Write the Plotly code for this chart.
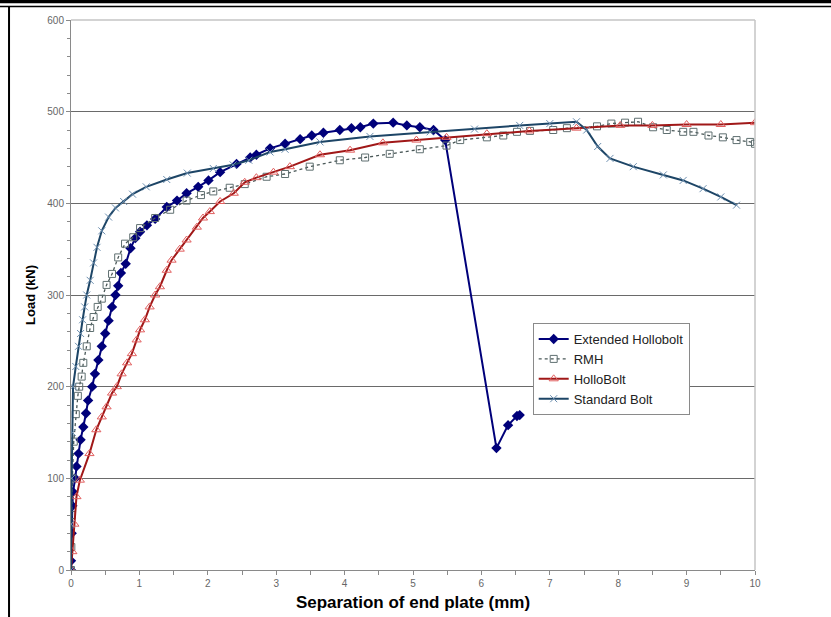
import plotly.graph_objects as go

# ---------------- data ----------------
ext_x = [0.0, 0.0, 0.01, 0.02, 0.03, 0.06, 0.08, 0.11, 0.14, 0.18, 0.22, 0.25, 0.31, 0.35, 0.40, 0.45,
         0.50, 0.55, 0.60, 0.65, 0.69, 0.73, 0.80, 0.87, 0.94, 1.01, 1.11, 1.23, 1.40, 1.55, 1.69, 1.86,
         2.01, 2.18, 2.42, 2.62, 2.71, 2.91, 3.13, 3.35, 3.52, 3.69, 3.93, 4.10, 4.23, 4.42, 4.71,
         4.91, 5.10, 5.30, 5.47, 6.22, 6.39, 6.52, 6.56]
ext_y = [0, 10, 40, 70, 85, 100, 113, 127, 142, 156, 171, 185, 200, 214, 229, 244,
         258, 272, 287, 300, 310, 324, 334, 351, 362, 369, 376, 383, 396, 403, 411, 418,
         425, 434, 443, 450, 453, 460, 465, 470, 474, 477, 480, 482, 483, 487, 488,
         485, 483, 480, 469, 133, 158, 168, 169]

rmh_x = [0.0, 0.005, 0.01, 0.02, 0.04, 0.07, 0.10, 0.12, 0.156, 0.18, 0.23, 0.28, 0.33, 0.39, 0.45,
         0.52, 0.60, 0.69, 0.79, 0.91, 1.01, 1.23, 1.45, 1.69, 1.90, 2.08, 2.32, 2.54, 2.86, 3.13,
         3.49, 3.93, 4.30, 4.66, 5.10, 5.49, 5.69, 6.08, 6.32, 6.52, 6.71, 7.05, 7.25, 7.69, 7.90,
         8.10, 8.29, 8.51, 8.71, 8.95, 9.10, 9.32, 9.53, 9.73, 9.93, 10.0]
rmh_y = [0, 25, 60, 100, 140, 170, 190, 200, 211, 226, 244, 264, 276, 287, 296,
         311, 323, 341, 356, 363, 373, 384, 393, 403, 409, 413, 417, 421, 429, 432,
         440, 447, 450, 454, 459, 463, 469, 472, 474, 478, 479, 480, 482, 484, 487,
         488, 489, 483, 480, 478, 478, 474, 472, 469, 467, 465]

hb_x = [0.0, 0.02, 0.05, 0.08, 0.13, 0.27, 0.37, 0.45, 0.52, 0.60, 0.67, 0.74, 0.82, 0.89, 0.96,
        1.01, 1.08, 1.15, 1.23, 1.30, 1.40, 1.47, 1.59, 1.69, 1.84, 1.93, 2.03, 2.18, 2.38, 2.54,
        2.71, 2.96, 3.20, 3.64, 4.08, 4.56, 5.05, 5.49, 6.08, 6.70, 7.39, 8.03, 8.50, 9.00, 9.50,
        10.0]
hb_y = [0, 20, 50, 80, 98, 127, 153, 167, 178, 193, 200, 214, 226, 236, 251,
        262, 273, 287, 300, 309, 327, 338, 350, 360, 374, 384, 391, 402, 411, 423,
        428, 434, 440, 453, 458, 466, 469, 472, 476, 479, 482, 485, 485, 486, 486,
        488]

std_x = [0.0, 0.0, 0.01, 0.02, 0.03, 0.07, 0.11, 0.14, 0.17, 0.20, 0.23, 0.28, 0.33, 0.38, 0.45,
         0.55, 0.65, 0.77, 0.90, 1.10, 1.40, 1.70, 2.08, 2.37, 2.60, 2.91, 3.13, 3.64, 4.37, 5.25,
         5.90, 6.56, 7.00, 7.39, 7.54, 7.70, 7.88, 8.22, 8.66, 8.95, 9.24, 9.50, 9.73]
std_y = [0, 50, 100, 150, 200, 222, 244, 258, 273, 287, 300, 316, 335, 352, 370,
         385, 395, 402, 410, 418, 426, 433, 438, 442, 447, 456, 459, 467, 473, 478,
         481, 485, 487, 489, 480, 462, 449, 440, 431, 425, 416, 407, 398]

x_title = "Separation of end plate (mm)"
y_title = "Load (kN)"

# ---------------- figure ----------------
fig = go.Figure()

fig.add_trace(go.Scatter(
    x=ext_x, y=ext_y, name="Extended Hollobolt", mode="lines+markers",
    line=dict(color="#00007a", width=2),
    marker=dict(symbol="diamond", size=8, color="#00007a")))

fig.add_trace(go.Scatter(
    x=rmh_x, y=rmh_y, name="RMH", mode="lines+markers",
    line=dict(color="#4a5858", width=1.3, dash="dot"),
    marker=dict(symbol="square-open", size=7, color="#5f6f70", line=dict(width=1))))

fig.add_trace(go.Scatter(
    x=hb_x, y=hb_y, name="HolloBolt", mode="lines+markers",
    line=dict(color="#a01818", width=2),
    marker=dict(symbol="triangle-up-open", size=8, color="#e26060", line=dict(width=1))))

fig.add_trace(go.Scatter(
    x=std_x, y=std_y, name="Standard Bolt", mode="lines+markers",
    line=dict(color="#1d4566", width=2),
    marker=dict(symbol="x-thin", size=7, color="#6d8fb0", line=dict(width=1, color="#6d8fb0"))))

tickfont = dict(family="Liberation Sans Narrow, Arial Narrow, Liberation Sans, Arial",
                size=10, color="#666666")

fig.update_layout(
    width=831, height=617,
    margin=dict(l=71, r=76, t=20, b=47, autoexpand=False),
    paper_bgcolor="white", plot_bgcolor="white",
    font=dict(family="Liberation Sans, Arial", color="black"),
    showlegend=True,
    legend=dict(x=0.675, y=0.449, xanchor="left", yanchor="top",
                bgcolor="white", bordercolor="#8a8a8a", borderwidth=1,
                font=dict(family="Liberation Sans, Arial", size=13, color="#222222"),
                tracegroupgap=0, itemwidth=30),
    xaxis=dict(range=[0, 10], dtick=1, tick0=0, showgrid=False, zeroline=False,
               automargin=False,
               showline=True, linecolor="#8a8a8a", linewidth=1,
               ticks="outside", ticklen=4, tickcolor="#8a8a8a",
               minor=dict(dtick=0.5, ticks="outside", ticklen=4, tickcolor="#8a8a8a"),
               tickfont=tickfont,
               title=dict(text="<b>" + x_title + "</b>", standoff=8,
                          font=dict(family="Liberation Sans, Arial", size=17, color="black"))),
    yaxis=dict(range=[0, 600], dtick=100, tick0=0, showgrid=True, gridcolor="#6a6a6a",
               gridwidth=1, zeroline=False, automargin=False,
               showline=True, linecolor="#8a8a8a", linewidth=1,
               ticks="outside", ticklen=4, tickcolor="#8a8a8a",
               minor=dict(dtick=20, ticks="outside", ticklen=3, tickcolor="#8a8a8a"),
               tickfont=tickfont,
               title=dict(text="<b>" + y_title + "</b>", standoff=8,
                          font=dict(family="Liberation Sans, Arial", size=13, color="black"))),
)

# light plot-area border (top and right), drawn over the 600 gridline
fig.add_shape(type="line", xref="paper", yref="paper", x0=0, x1=1, y0=1, y1=1,
              line=dict(color="#c4c4c4", width=1.5), layer="above")
fig.add_shape(type="line", xref="paper", yref="paper", x0=1, x1=1, y0=0, y1=1,
              line=dict(color="#c4c4c4", width=1.5), layer="above")

# outer black frame lines (top double line and left edge)
fig.add_shape(type="line", xref="paper", yref="paper", x0=-0.2, x1=1.2, y0=1.0336, y1=1.0336,
              line=dict(color="black", width=3.5))
fig.add_shape(type="line", xref="paper", yref="paper", x0=-0.2, x1=1.2, y0=1.0245, y1=1.0245,
              line=dict(color="black", width=1.5))
fig.add_shape(type="line", xref="paper", yref="paper", x0=-0.0906, x1=-0.0906, y0=1.0245, y1=-0.2,
              line=dict(color="black", width=2))

# remove the default page margin so the figure sits at the window's top-left corner
fig.write_html("out.html",
               config={"displayModeBar": False},
               post_script="document.body.style.margin='0';document.body.style.overflow='hidden';")
